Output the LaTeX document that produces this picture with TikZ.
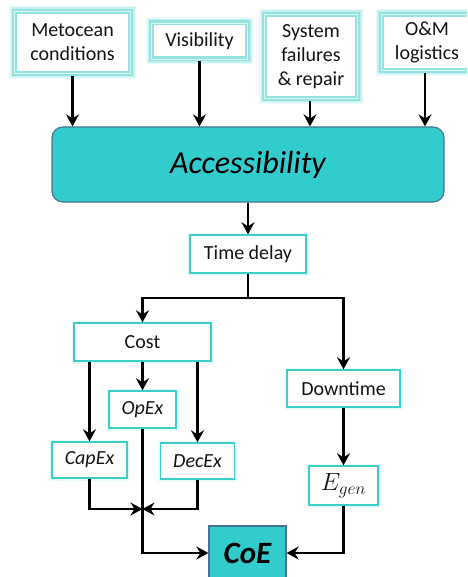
\documentclass[tikz,border=0pt]{standalone}
\usepackage{fontspec}
\setmainfont{Carlito}
\usetikzlibrary{arrows.meta}
\definecolor{tealfill}{RGB}{51,204,204}
\definecolor{tealedge}{RGB}{70,115,145}
\definecolor{glowA}{RGB}{150,226,226}
\definecolor{glowB}{RGB}{196,240,240}
\definecolor{glowC}{RGB}{232,250,250}
\definecolor{glowline}{RGB}{215,248,232}
\definecolor{boxedge}{RGB}{60,206,200}
\definecolor{txt}{RGB}{20,20,20}
\begin{document}
\begin{tikzpicture}[x=1pt,y=-1pt,
  topbox/.style={fill=white, draw=glowA, line width=5pt,
    preaction={draw=glowC, line width=11pt},
    preaction={draw=glowB, line width=8pt},
    postaction={draw=glowline, line width=0.8pt},
    inner sep=0pt, align=center, text=txt, font=\fontsize{20}{24}\selectfont},
  smallbox/.style={fill=white, draw=boxedge, line width=1.4pt,
    preaction={draw=glowC, line width=5pt},
    inner sep=0pt, text=txt, font=\fontsize{20}{24}\selectfont},
  tealbox/.style={draw=tealedge, fill=tealfill, line width=1.2pt, inner sep=0pt},
  arr/.style={line width=2.5pt, -{Stealth[length=12pt,width=13pt,inset=4pt]}},
  ln/.style={line width=2.5pt}]
\useasboundingbox (0,0) rectangle (467,577);
\clip (0,0) rectangle (467,577);
% top inputs
\node[topbox, minimum width=116pt, minimum height=62pt] (met) at (72.5,42.5) {Metocean\\conditions};
\node[topbox, minimum width=96pt, minimum height=36pt] (vis) at (199.5,41) {Visibility};
\node[topbox, minimum width=93pt, minimum height=84pt] (sys) at (311,56.5) {System\\failures\\\& repair};
\node[topbox, minimum width=92pt, minimum height=56pt] (om) at (427,42.5) {O\&M\\logistics};
% accessibility
\node[tealbox, rounded corners=11pt, minimum width=392pt, minimum height=75pt,
  font=\fontsize{32}{38}\selectfont\itshape] (acc) at (248,164.5) {Accessibility};
\draw[arr] (met.south) -- (met.south |- acc.north);
\draw[arr] (vis.south) -- (vis.south |- acc.north);
\draw[arr] ([xshift=-1pt]sys.south) -- ([xshift=-1pt]sys.south |- acc.north);
\draw[arr] ([xshift=-2pt]om.south) -- ([xshift=-2pt]om.south |- acc.north);
% time delay
\node[smallbox, minimum width=116pt, minimum height=38pt] (td) at (248,254) {Time delay};
\draw[arr] (acc.south) -- (td.north);
\coordinate (j) at (248,298);
\node[smallbox, minimum width=137pt, minimum height=38pt] (cost) at (142.5,342) {Cost};
\node[smallbox, minimum width=113pt, minimum height=37pt] (down) at (343.5,388.5) {Downtime};
\draw[ln] (td.south) -- (j);
\draw[arr] (j) -| (cost.north);
\draw[arr] (j) -| (down.north);
% cost branches
\node[smallbox, minimum width=67pt, minimum height=37pt, font=\fontsize{20}{24}\selectfont\itshape] (opex) at (142.5,409.5) {OpEx};
\node[smallbox, minimum width=75pt, minimum height=36pt, font=\fontsize{20}{24}\selectfont\itshape] (capex) at (89.5,460) {CapEx};
\node[smallbox, minimum width=74pt, minimum height=36pt, font=\fontsize{20}{24}\selectfont\itshape] (decex) at (197.5,461) {DecEx};
\draw[arr] (cost.south -| capex) -- (capex.north);
\draw[arr] (cost.south) -- (opex.north);
\draw[arr] (cost.south -| decex) -- (decex.north);
% energy
\node[smallbox, minimum width=69pt, minimum height=39pt, font=\fontsize{23}{26}\selectfont] (egen) at (343.5,485.5) {$E_{gen}$};
\draw[arr] (down.south) -- (egen.north);
% CoE
\node[tealbox, minimum width=77pt, minimum height=54pt, text=black,
  font=\fontsize{31}{36}\selectfont\bfseries\itshape] (coe) at (247.5,553) {CoE};
\coordinate (m) at (142.5,509);
\draw[arr] (capex.south) |- (m);
\draw[arr] (decex.south) |- (m);
\draw[arr] (opex.south) |- (coe.west);
\draw[arr] (egen.south) |- (coe.east);
\end{tikzpicture}
\end{document}
